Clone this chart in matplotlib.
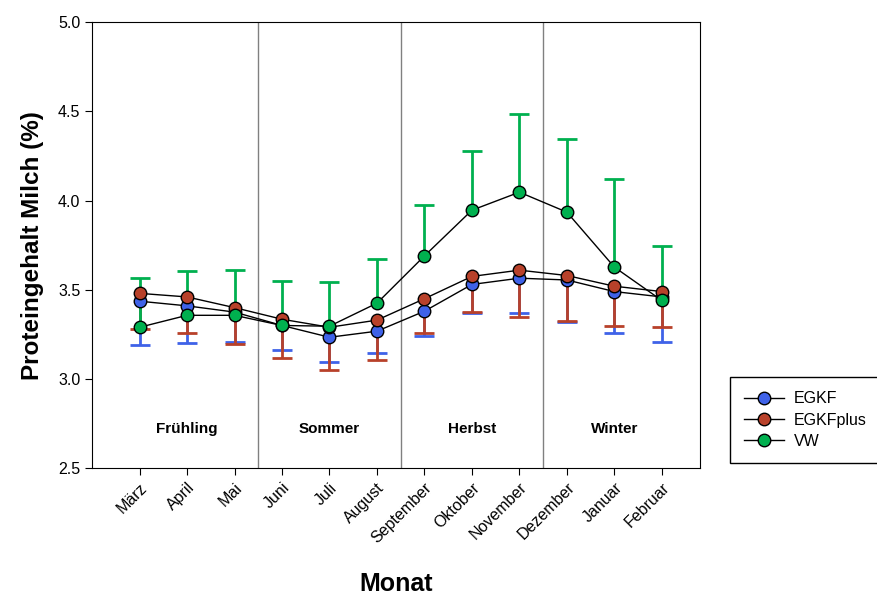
import numpy as np
import matplotlib
matplotlib.use("Agg")
import matplotlib.pyplot as plt

plt.rcParams['font.family'] = ['Liberation Sans', 'DejaVu Sans']

monate = ['März', 'April', 'Mai', 'Juni', 'Juli', 'August', 'September',
          'Oktober', 'November', 'Dezember', 'Januar', 'Februar']
jahreszeiten = ['Frühling', 'Sommer', 'Herbst', 'Winter']

egkf = [3.436, 3.41, 3.375, 3.30, 3.234, 3.268, 3.38, 3.53, 3.565, 3.555, 3.49, 3.46]
egkf_low = [3.19, 3.20, 3.21, 3.16, 3.094, 3.145, 3.24, 3.37, 3.37, 3.32, 3.26, 3.205]

egkfplus = [3.48, 3.46, 3.40, 3.335, 3.29, 3.33, 3.45, 3.575, 3.61, 3.58, 3.52, 3.49]
egkfplus_low = [3.28, 3.26, 3.195, 3.117, 3.05, 3.105, 3.257, 3.374, 3.35, 3.323, 3.296, 3.29]

vw = [3.29, 3.357, 3.357, 3.30, 3.296, 3.425, 3.69, 3.946, 4.047, 3.935, 3.627, 3.44]
vw_high = [3.565, 3.604, 3.61, 3.55, 3.543, 3.67, 3.975, 4.277, 4.484, 4.346, 4.12, 3.744]

x = np.arange(len(monate))

fig = plt.figure(figsize=(8.77, 5.98), dpi=100)
ax = fig.add_axes([0.105, 0.217, 0.693, 0.746])

serien = [
    ('EGKF', egkf, egkf_low, '#3f62e8'),
    ('EGKFplus', egkfplus, egkfplus_low, '#b8412a'),
    ('VW', vw, vw_high, '#00b04f'),
]

# einseitige Fehlerbalken: Strich + Kappe nur am Ende
for name, werte, grenze, farbe in serien:
    ax.vlines(x, werte, grenze, colors=farbe, lw=2, zorder=2)
    ax.plot(x, grenze, ls='none', marker='_', ms=15, mew=2, color=farbe, zorder=2)

for name, werte, grenze, farbe in serien:
    ax.plot(x, werte, color='black', lw=1, marker='o', ms=9,
            mfc=farbe, mec='black', mew=1, label=name, zorder=3)

for pos in [2.5, 5.5, 8.5]:
    ax.axvline(pos, color='#808080', lw=1, zorder=1)

for i, name in enumerate(jahreszeiten):
    ax.text(3 * i + 1, 2.72, name, ha='center', va='center',
            fontsize=11, fontweight='bold')

ax.set_xlim(-1, 11.8)
ax.set_ylim(2.5, 5.0)
ax.set_yticks(np.arange(2.5, 5.01, 0.5))
ax.set_yticklabels([f'{v:.1f}' for v in np.arange(2.5, 5.01, 0.5)], fontsize=11.5)
ax.set_xticks(x)
ax.set_xticklabels(monate, rotation=45, ha='right', rotation_mode='anchor', fontsize=11.5)
ax.tick_params(direction='out', length=5)

ax.set_ylabel('Proteingehalt Milch (%)', fontsize=17.5, fontweight='bold', labelpad=10)
ax.set_xlabel('Monat', fontsize=18, fontweight='bold', labelpad=19)

leg = ax.legend(loc='upper left', bbox_to_anchor=(1.049, 0.205), fontsize=11.5,
                fancybox=False, edgecolor='black', framealpha=1,
                handlelength=2.5, handletextpad=0.6, borderpad=0.9,
                labelspacing=0.4, borderaxespad=0)
leg.get_frame().set_linewidth(1)

fig.savefig('out.png', dpi=100)
